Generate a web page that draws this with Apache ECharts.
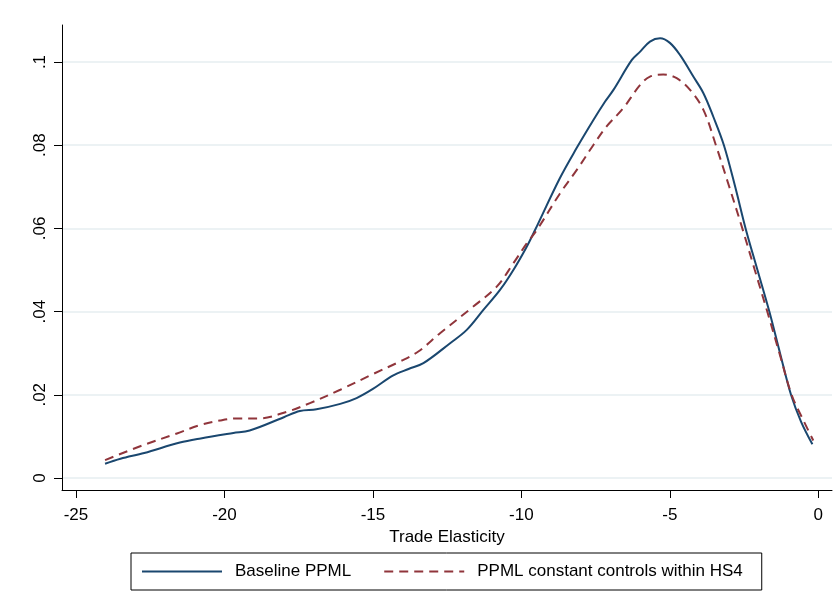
<!DOCTYPE html>
<html>
<head>
<meta charset="utf-8">
<script src="https://cdn.jsdelivr.net/npm/echarts@6/dist/echarts.min.js"></script>
<style>
html,body{margin:0;padding:0;background:#fff;}
#chart{width:838px;height:593px;}
</style>
</head>
<body>
<div id="chart"></div>
<script>
// ---- data ----
const xTicks = [-25, -20, -15, -10, -5, 0];
const yTicks = [0, 0.02, 0.04, 0.06, 0.08, 0.1];
const xTitle = 'Trade Elasticity';
const seriesNames = ['Baseline PPML', 'PPML constant controls within HS4'];

const baseX = [-24.02,-23.5,-22.7,-21.5,-20.8,-19.7,-19.15,-18.0,-17.46,-16.9,-16.1,-15.55,-15.0,-14.33,-13.8,-13.3,-12.4,-11.84,-11.28,-10.72,-10.27,-9.82,-9.54,-8.71,-8.14,-7.58,-7.18,-6.9,-6.28,-6.0,-5.67,-5.33,-5.0,-4.66,-4.21,-3.87,-3.54,-3.18,-2.8,-2.45,-2.05,-1.65,-1.29,-0.92,-0.58,-0.2];
const baseY = [0.0034,0.0046,0.0060,0.0085,0.0095,0.0108,0.0114,0.0146,0.0161,0.0165,0.0178,0.0192,0.0214,0.0246,0.0262,0.0276,0.0324,0.0356,0.0404,0.0452,0.0500,0.0556,0.0596,0.0720,0.0793,0.0860,0.0905,0.0933,0.1005,0.1025,0.1049,0.1057,0.1046,0.1017,0.0965,0.0925,0.0869,0.0800,0.0700,0.0600,0.0500,0.0400,0.0300,0.0200,0.0135,0.0081];

const hs4X = [-24.02,-22.73,-21.6,-20.83,-20.15,-19.6,-18.86,-17.9,-17.12,-16.1,-14.99,-14.09,-13.47,-12.74,-11.62,-10.83,-10.27,-9.82,-9.48,-8.7,-8.14,-7.58,-7.13,-6.57,-6.0,-5.67,-5.22,-4.77,-4.32,-3.87,-3.45,-3.0,-2.56,-2.14,-1.72,-1.31,-0.9,-0.5,-0.17];
const hs4Y = [0.0043,0.0079,0.0107,0.0127,0.0138,0.0143,0.0143,0.0159,0.0180,0.0212,0.0250,0.0280,0.0304,0.0348,0.0412,0.0460,0.0516,0.0564,0.0596,0.0684,0.0740,0.0800,0.0845,0.0889,0.0945,0.0965,0.0970,0.0961,0.0933,0.0885,0.0800,0.0700,0.0600,0.0500,0.0400,0.0300,0.0200,0.0138,0.0090];

const zip = (xs, ys) => xs.map((x, i) => [x, ys[i]]);
const FONT = '"Liberation Sans", Arial, sans-serif';
const FS = 17;

const chart = echarts.init(document.getElementById('chart'), null, {renderer: 'canvas'});
chart.setOption({
  animation: false,
  backgroundColor: '#ffffff',
  grid: {left: 62, right: 6, top: 25, bottom: 103, containLabel: false},
  xAxis: {
    type: 'value',
    min: -25.47, max: 0.46,
    name: xTitle,
    nameLocation: 'middle',
    nameGap: 33,
    nameTextStyle: {color: '#000', fontFamily: FONT, fontSize: FS},
    axisLine: {show: true, onZero: false, lineStyle: {color: '#000', width: 1}},
    axisTick: {show: true, length: 8, customValues: xTicks, lineStyle: {color: '#000', width: 1}},
    axisLabel: {customValues: xTicks, margin: 17, color: '#000', fontFamily: FONT, fontSize: FS,
      formatter: v => String(v)},
    splitLine: {show: false}
  },
  yAxis: {
    type: 'value',
    min: -0.0029, max: 0.1089,
    axisLine: {show: true, onZero: false, lineStyle: {color: '#000', width: 1}},
    axisTick: {show: true, length: 8, customValues: yTicks, lineStyle: {color: '#000', width: 1}},
    axisLabel: {customValues: yTicks, rotate: 90, margin: 13, color: '#000', fontFamily: FONT, fontSize: FS,
      formatter: v => v === 0 ? '0' : String(+v.toFixed(4)).replace(/^0\./, '.')},
    splitLine: {show: true, customValues: yTicks, lineStyle: {color: '#e6eef1', width: 1.5}}
  },
  legend: {
    left: 131, top: 553,
    orient: 'horizontal',
    padding: [10, 19, 10, 10],
    borderColor: '#000', borderWidth: 1,
    backgroundColor: '#fff',
    itemWidth: 80, itemHeight: 14, itemGap: 32,
    itemStyle: {opacity: 0},
    textStyle: {color: '#000', fontFamily: FONT, fontSize: FS, padding: [0, 0, 0, 8]},
    data: seriesNames
  },
  series: [
    {
      name: seriesNames[0], type: 'line', data: zip(baseX, baseY),
      showSymbol: false, symbol: 'none', smooth: 0.35,
      lineStyle: {color: '#1a476f', width: 2},
      itemStyle: {color: '#1a476f'}
    },
    {
      name: seriesNames[1], type: 'line', data: zip(hs4X, hs4Y),
      showSymbol: false, symbol: 'none', smooth: 0.35,
      lineStyle: {color: '#90353b', width: 2, type: [9, 6]},
      itemStyle: {color: '#90353b'}
    }
  ]
});
</script>
</body>
</html>
